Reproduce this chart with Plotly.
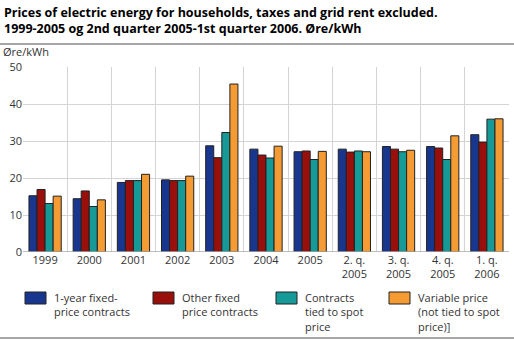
import plotly.graph_objects as go

categories = ["1999", "2000", "2001", "2002", "2003", "2004", "2005",
              "2. q.<br>2005", "3. q.<br>2005", "4. q.<br>2005", "1. q.<br>2006"]
series_names = ["1-year fixed-<br>price contracts", "Other fixed<br>price contracts",
                "Contracts<br>tied to spot<br>price", "Variable price<br>(not tied to spot<br>price)]"]
one_year = [15.2, 14.4, 18.8, 19.5, 28.7, 27.8, 27.1, 27.8, 28.5, 28.5, 31.7]
other_fixed = [16.9, 16.5, 19.3, 19.3, 25.5, 26.2, 27.3, 27.0, 27.8, 28.1, 29.7]
spot = [13.1, 12.3, 19.3, 19.3, 32.3, 25.4, 25.0, 27.3, 27.1, 25.0, 35.9]
variable = [15.1, 14.1, 21.0, 20.5, 45.4, 28.6, 27.2, 27.1, 27.5, 31.4, 36.0]
colors = ["#19368f", "#990f0b", "#169a98", "#f59b33"]
y_ticks = [0, 10, 20, 30, 40, 50]

font = "Open Sans, DejaVu Sans, sans-serif"
xpos = list(range(len(categories)))
fig = go.Figure()
for name, vals, c in zip(series_names, [one_year, other_fixed, spot, variable], colors):
    fig.add_trace(go.Bar(x=xpos, y=vals, name=name, showlegend=False,
                         marker=dict(color=c, line=dict(color="#222222", width=1))))

fig.add_trace(go.Scatter(x=[-0.5, len(categories) - 0.5], y=[0, 0], xaxis="x2", mode="lines",
                         line=dict(width=0), showlegend=False, hoverinfo="skip"))

PW, PH, L, T = 486, 185, 23, 67
def px_x(x):
    return (x - L) / PW
def px_y(y):
    return (T + PH - y) / PH

fig.update_layout(
    width=514, height=340,
    margin=dict(l=L, r=5, t=T, b=88),
    paper_bgcolor="white", plot_bgcolor="white",
    font=dict(family=font, size=11, color="#222222"),
    barmode="group", bargap=0.27, bargroupgap=0.0,
    xaxis=dict(range=[-0.5, len(categories) - 0.5], tickvals=xpos, ticktext=categories,
               showgrid=False, zeroline=False, showline=False, ticks="",
               tickfont=dict(size=11, color="#333333")),
    xaxis2=dict(overlaying="x", range=[-0.5, len(categories) - 0.5],
                tickvals=[i - 0.5 for i in range(len(categories) + 1)],
                showgrid=True, gridcolor="#d4d4d4", gridwidth=1.3, showticklabels=False,
                zeroline=False, ticks=""),
    yaxis=dict(range=[0, 50], tickvals=y_ticks, showgrid=True, gridcolor="#d4d4d4", gridwidth=1.3,
               zeroline=False, showline=False, ticks="", tickfont=dict(size=11, color="#333333")),
    showlegend=False,
)

# manual legend (swatch + wrapped label), positions in pixels
legend_swatch_x = [25, 153, 276, 389]
for sx, name, c in zip(legend_swatch_x, series_names, colors):
    fig.add_shape(type="rect", xref="paper", yref="paper",
                  x0=px_x(sx), x1=px_x(sx + 21), y0=px_y(292), y1=px_y(304),
                  fillcolor=c, line=dict(color="#222222", width=1))
    fig.add_annotation(text=name, xref="paper", yref="paper", x=px_x(sx + 27), y=px_y(288),
                       xanchor="left", yanchor="top", align="left", showarrow=False,
                       font=dict(size=11, color="#333333"))

fig.add_annotation(text="<b>Prices of electric energy for households, taxes and grid rent excluded.<br>1999-2005 og 2nd quarter 2005-1st quarter 2006. Øre/kWh</b>",
                   xref="paper", yref="paper", x=px_x(2), y=px_y(2), xanchor="left", yanchor="top",
                   align="left", showarrow=False,
                   font=dict(family=font, size=12.5, color="#000000"))

fig.add_shape(type="line", xref="paper", yref="y", x0=0, x1=1, y0=0, y1=0,
              line=dict(color="#aaaaaa", width=1.5))
fig.add_shape(type="line", xref="paper", yref="paper", x0=px_x(0), x1=px_x(514),
              y0=px_y(44), y1=px_y(44), line=dict(color="#888888", width=1.5))
fig.add_shape(type="line", xref="paper", yref="paper", x0=px_x(0), x1=px_x(514),
              y0=px_y(338), y1=px_y(338), line=dict(color="#888888", width=1.5))
fig.add_annotation(text="Øre/kWh", xref="paper", yref="paper", x=px_x(1), y=px_y(52),
                   xanchor="left", yanchor="middle", showarrow=False,
                   font=dict(size=11, color="#333333"))

fig.write_html("out.html")
